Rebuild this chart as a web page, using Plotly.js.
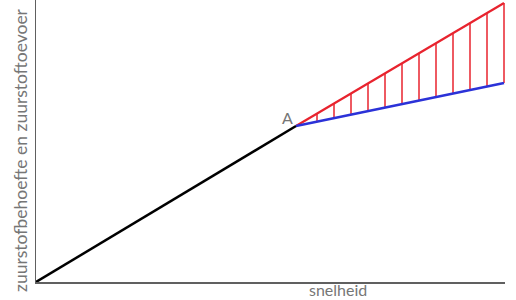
<!DOCTYPE html>
<html>
<head>
<meta charset="utf-8">
<script src="https://cdn.plot.ly/plotly-3.0.1.min.js"></script>
<style>html,body{margin:0;padding:0;background:#fff;}#chart{width:516px;height:300px;}</style>
</head>
<body>
<div id="chart"></div>
<script>
// Black line: common part (origin to point A)
const commonX = [0, 260];
const commonY = [0, 156];
// Red line: zuurstofbehoefte after A
const demandX = [260, 468];
const demandY = [156, 279];
// Blue line: zuurstoftoevoer after A
const supplyX = [260, 468];
const supplyY = [156, 199];
// Vertical hatch lines between red and blue
const hatchX =   [281, 298, 315, 332, 349, 366, 383, 400, 417, 434, 451, 468];
const hatchTop = [168, 178, 188, 199, 209, 219, 229, 239, 249, 259, 269, 279];
const hatchBot = [160, 164, 167, 171, 174, 178, 181, 185, 188, 192, 195, 199];
const pointLabel = "A";
const xTitle = "snelheid";
const yTitle = "zuurstofbehoefte en zuurstoftoevoer";

const hx = [], hy = [];
for (let i = 0; i < hatchX.length; i++) {
  hx.push(hatchX[i], hatchX[i], null);
  hy.push(hatchBot[i], hatchTop[i], null);
}

const traces = [
  {x: hx, y: hy, mode: 'lines', line: {color: '#e8232e', width: 1.5}, hoverinfo: 'skip'},
  {x: demandX, y: demandY, mode: 'lines', line: {color: '#e8232e', width: 2.2}},
  {x: supplyX, y: supplyY, mode: 'lines', line: {color: '#2b32d8', width: 2.5}},
  {x: commonX, y: commonY, mode: 'lines', line: {color: '#000000', width: 2.5}},
];

const plotW = 516 - 36 - 11, plotH = 300 - 0 - 18;
const font = 'Lato, Open Sans, sans-serif';

const layout = {
  width: 516, height: 300,
  margin: {l: 36, r: 11, t: 0, b: 18},
  paper_bgcolor: '#fff', plot_bgcolor: '#fff',
  showlegend: false,
  xaxis: {range: [0, 469], showgrid: false, zeroline: false, showticklabels: false, ticks: '',
          showline: true, linecolor: '#606060', linewidth: 1.5, fixedrange: true},
  yaxis: {range: [0, 282], showgrid: false, zeroline: false, showticklabels: false, ticks: '',
          showline: true, linecolor: '#606060', linewidth: 1.5, fixedrange: true},
  annotations: [
    {text: pointLabel, x: 251, y: 165, xref: 'x', yref: 'y', showarrow: false,
     xanchor: 'center', yanchor: 'middle',
     font: {family: font, size: 16, color: '#767676'}},
    {text: xTitle, x: 338 - 36, xref: 'x', y: (282 - 300) / plotH, yref: 'paper',
     showarrow: false, xanchor: 'center', yanchor: 'bottom', borderpad: 0,
     font: {family: font, size: 16, color: '#767676'}},
    {text: yTitle, x: (20 - 36) / plotW, xref: 'paper', y: (282 - 150) / plotH, yref: 'paper',
     showarrow: false, textangle: -90, xanchor: 'center', yanchor: 'middle',
     font: {family: font, size: 17.5, color: '#767676'}}
  ]
};

Plotly.newPlot('chart', traces, layout, {staticPlot: true, displayModeBar: false});
</script>
</body>
</html>
